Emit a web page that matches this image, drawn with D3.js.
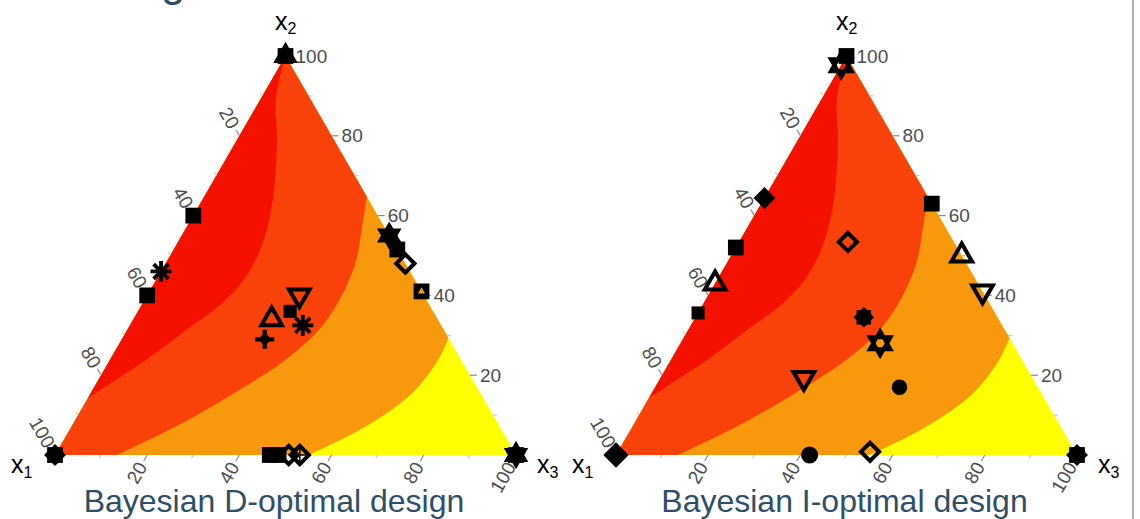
<!DOCTYPE html>
<html>
<head>
<meta charset="utf-8">
<title>Bayesian optimal designs</title>
<style>
  body { margin: 0; background: #fff; }
  svg text { font-family: "Liberation Sans", Arial, sans-serif; }
</style>
</head>
<body>
<div id="container"></div>
<script src="https://d3js.org/d3.v7.min.js"></script>
<script>

// TICK VALUES (percent)
var majorTicks = [20, 40, 60, 80, 100];
var minorTicks = [10, 30, 50, 70, 90];

// CONTOUR BOUNDARIES, [x1, x2, x3] in percent
var redEdge = [[0,100,0],[7.6,89,3.4],[12.4,78.9,8.7],[20.8,63.9,15.3],[28.8,52.6,18.6],
  [37.1,43.9,19],[45.4,37.6,17],[54.6,32.1,13.3],[68.4,23.8,7.8],[85.7,14.3,0]];
var orangeRedEdge = [[0,64.7,35.3],[5.8,55.6,38.6],[10.2,48.9,40.9],[17.2,40.6,42.2],
  [26.2,32.1,41.7],[38.2,23.8,38],[53.4,15.5,31.1],[70.5,7,22.5],[86.6,0,13.4]];
var orangeEdge = [[0,29.3,70.7],[5,23.8,71.2],[14.8,15.5,69.7],[29.3,7,63.7],[45,0,55]];
var bandColors = ["#ffff00", "#f8980c", "#f8420a", "#f41100"];

// DESIGN POINTS [x1, x2, x3, marker]
var dDesign = [
  [0,100,0,"square"], [0,100,0,"fTriUp"],
  [100,0,0,"square"], [100,0,0,"fDiamond"],
  [0,0,100,"square"], [0,0,100,"fTriUp"], [0,0,100,"fTriDown"],
  [40,60,0,"square"], [60,40,0,"square"], [54,46,0,"asterisk"],
  [0,55,45,"fTriUp"], [0,55,45,"fTriDown"], [0,51.5,48.5,"square"],
  [0,48,52,"diamond"], [0,41,59,"square"], [0,41,59,"hole"],
  [27,40,33,"triDown"], [31,36,33,"smallSquare"], [36,34,30,"triUp"],
  [30,32.5,37.5,"asterisk"], [40,29,31,"sparkle"], [40,29,31,"plus"],
  [53.4,0,46.6,"square"], [51.5,0,48.5,"square"], [49.3,0,50.7,"diamond"],
  [46.9,0,53.1,"diamond"], [46.9,0,53.1,"thinPlus"]
];
var iDesign = [
  [0,100,0,"square"], [2.3,97.7,0,"triUp"], [2.3,97.7,0,"triDown"],
  [35.6,64.4,0,"fDiamond"], [48,52,0,"square"], [57,43,0,"triUp"],
  [64.4,35.6,0,"smallSquare"], [23,53.4,23.6,"diamond"],
  [0,63,37,"square"], [0,50,50,"triUp"], [0,41,59,"triDown"],
  [29,34.5,36.5,"sunSquare"], [29,34.5,36.5,"sunDiamond"],
  [28.7,28,43.3,"triUp"], [28.7,28,43.3,"triDown"],
  [49.6,19.3,31.1,"triDown"], [30,17,53,"circle"],
  [100,0,0,"bigDiamond"], [58,0,42,"bigCircle"], [44.5,0.8,54.7,"diamond"],
  [0,0,100,"square"], [0,0,100,"fDiamond"]
];

var panels = [
  { dx: 0,   titleX: 274,   title: "Bayesian D-optimal design", pts: dDesign },
  { dx: 561, titleX: 283.5, title: "Bayesian I-optimal design", pts: iDesign }
];

var W = 1140, H = 519;
var svg = d3.select("#container").append("svg")
  .attr("width", W).attr("height", H);

// fragment of the slide title above
svg.append("text").attr("x", 161).attr("y", -4)
  .attr("font-size", 44).attr("fill", "#2f4f66").text("g");

// slide frame on the right
svg.append("line").attr("x1", 1133).attr("x2", 1133).attr("y1", 0).attr("y2", H)
  .attr("stroke", "#a7b3bd").attr("stroke-width", 2);

// SCALES: x3 + x2/2 across, x2 up
var x = d3.scaleLinear().domain([0, 1]).range([55, 516]);
var y = d3.scaleLinear().domain([0, 1]).range([455, 56]);
function proj(p) { return [x(p[2] / 100 + p[1] / 200), y(p[1] / 100)]; }

var curve = d3.line().curve(d3.curveCatmullRom.alpha(0.5));
var A1 = [100, 0, 0], A2 = [0, 100, 0], A3 = [0, 0, 100];

var sym = function (t, s) { return d3.symbol().type(t).size(s)(); };
function asterisk(r) {
  var k = r * 0.7071;
  return "M0," + (-r) + "L0," + r + "M" + (-r) + ",0L" + r + ",0" +
    "M" + (-k) + "," + (-k) + "L" + k + "," + k + "M" + (-k) + "," + k + "L" + k + "," + (-k);
}
function plus(r) { return "M0," + (-r) + "L0," + r + "M" + (-r) + ",0L" + r + ",0"; }

var markers = {
  square:      { d: sym(d3.symbolSquare, 250), fill: "#000" },
  smallSquare: { d: sym(d3.symbolSquare, 170), fill: "#000" },
  fDiamond:    { d: sym(d3.symbolSquare, 240), fill: "#000", rot: 45 },
  bigDiamond:  { d: sym(d3.symbolSquare, 320), fill: "#000", rot: 45 },
  sunSquare:   { d: sym(d3.symbolSquare, 210), fill: "#000" },
  sunDiamond:  { d: sym(d3.symbolSquare, 210), fill: "#000", rot: 45 },
  fTriUp:      { d: sym(d3.symbolTriangle, 260), fill: "#000" },
  fTriDown:    { d: sym(d3.symbolTriangle, 260), fill: "#000", rot: 180 },
  triUp:       { d: sym(d3.symbolTriangle, 185), fill: "none", sw: 4 },
  triDown:     { d: sym(d3.symbolTriangle, 185), fill: "none", sw: 4, rot: 180 },
  diamond:     { d: sym(d3.symbolSquare, 165), fill: "none", sw: 4, rot: 45 },
  circle:      { d: sym(d3.symbolCircle, 190), fill: "#000" },
  bigCircle:   { d: sym(d3.symbolCircle, 230), fill: "#000" },
  asterisk:    { d: asterisk(10.5), fill: "none", sw: 3.8 },
  sparkle:     { d: sym(d3.symbolSquare, 90), fill: "#000", rot: 45 },
  plus:        { d: plus(9.5), fill: "none", sw: 4.2 },
  thinPlus:    { d: plus(6), fill: "none", sw: 1.5 },
  hole:        { d: sym(d3.symbolTriangle, 22), fill: "#f8980c" }
};

panels.forEach(function (pn) {
  var g = svg.append("g").attr("transform", "translate(" + pn.dx + ",0)");

  // contour bands, drawn from the outside in
  var tri = [A1, A2, A3].map(proj);
  g.append("path").attr("d", "M" + tri.join("L") + "Z").attr("fill", bandColors[0]);
  [orangeEdge, orangeRedEdge].forEach(function (edge, i) {
    var d = curve(edge.map(proj)) + "L" + proj(A1) + "L" + proj(A2) + "Z";
    g.append("path").attr("d", d).attr("fill", bandColors[i + 1]);
  });
  g.append("path").attr("d", curve(redEdge.map(proj)) + "Z").attr("fill", bandColors[3]);

  // ticks and labels on the three edges
  var sides = [
    { pt: function (v) { return [0, v, 100 - v]; }, dir: [1, 0], rot: 0, anchor: "start" },
    { pt: function (v) { return [v, 100 - v, 0]; }, dir: [-0.5, -0.866], rot: 60, anchor: "end" },
    { pt: function (v) { return [100 - v, 0, v]; }, dir: [-0.5, 0.866], rot: -60, anchor: "end" }
  ];
  sides.forEach(function (s) {
    minorTicks.forEach(function (v) {
      var p = proj(s.pt(v));
      g.append("line").attr("x1", p[0]).attr("y1", p[1])
        .attr("x2", p[0] + s.dir[0] * 4).attr("y2", p[1] + s.dir[1] * 4)
        .attr("stroke", "#bdbdbd").attr("stroke-width", 1);
    });
    majorTicks.forEach(function (v) {
      var p = proj(s.pt(v));
      g.append("line").attr("x1", p[0]).attr("y1", p[1])
        .attr("x2", p[0] + s.dir[0] * 7).attr("y2", p[1] + s.dir[1] * 7)
        .attr("stroke", "#8a8a8a").attr("stroke-width", 1.2);
      var lx = p[0] + s.dir[0] * 10, ly = p[1] + s.dir[1] * 10;
      g.append("text")
        .attr("transform", "translate(" + lx + "," + ly + ") rotate(" + s.rot + ")")
        .attr("text-anchor", s.anchor).attr("dominant-baseline", "central")
        .attr("font-size", 19).attr("fill", "#4d4d4d").text(v);
    });
  });

  // vertex labels
  [["1", 11, 473, 5], ["2", 275, 30, 4], ["3", 537, 473, 5]].forEach(function (l) {
    var t = g.append("text").attr("x", l[1]).attr("y", l[2])
      .attr("font-size", 25).attr("fill", "#000").text("x");
    t.append("tspan").attr("font-size", 16).attr("dy", l[3]).text(l[0]);
  });

  // design points
  pn.pts.forEach(function (d) {
    var m = markers[d[3]], p = proj(d);
    g.append("path").attr("d", m.d)
      .attr("transform", "translate(" + p[0] + "," + p[1] + ") rotate(" + (m.rot || 0) + ")")
      .attr("fill", m.fill)
      .attr("stroke", m.sw ? "#000" : "none")
      .attr("stroke-width", m.sw || 0);
  });

  // panel title
  g.append("text").attr("x", pn.titleX).attr("y", 512).attr("text-anchor", "middle")
    .attr("font-size", 32).attr("fill", "#2f4f66").text(pn.title);
});

</script>
</body>
</html>
